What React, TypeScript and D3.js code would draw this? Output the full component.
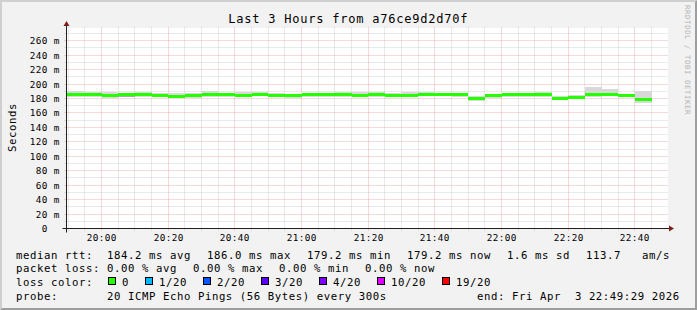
import React from 'react';
import * as d3 from 'd3';

// ---------- data ----------
const TITLE = 'Last 3 Hours from a76ce9d2d70f';
const Y_AXIS_TITLE = 'Seconds';
const WATERMARK = 'RRDTOOL / TOBI OETIKER';

const startTime = new Date(2026, 3, 3, 19, 49, 29);
const endTime = new Date(2026, 3, 3, 22, 49, 29);
const firstIntervalStart = new Date(2026, 3, 3, 19, 45, 0);
const STEP_MIN = 5;

// median rtt (ms) for each 5 minute interval, starting 19:45
const medianMs = [185.6, 185.6, 184.9, 183.8, 185.0, 185.6, 184.6, 183.3, 183.8, 185.6, 185.6, 184.6,
  186.0, 184.6, 183.8, 185.6, 185.6, 185.6, 184.6, 185.6, 184.6, 184.6, 186.0, 186.0,
  185.0, 180.0, 183.8, 185.6, 185.6, 185.0, 180.5, 181.8, 185.6, 186.0, 184.6, 179.2];
// outer smoke (lightest) top / bottom (ms)
const smokeHiMs = [191.0, 191.0, 188.5, 188.5, 188.0, 189.0, 187.5, 188.0, 188.0, 190.5, 188.0, 189.0,
  188.5, 187.5, 186.5, 188.0, 188.0, 189.0, 188.5, 188.5, 187.5, 189.5, 189.5, 188.0,
  188.0, 183.0, 185.5, 187.5, 187.5, 188.5, 183.5, 184.5, 196.0, 193.0, 186.5, 191.0];
const smokeLoMs = [182.6, 182.6, 182.0, 180.5, 181.5, 182.6, 182.0, 181.0, 181.0, 182.6, 182.6, 182.0,
  183.0, 182.0, 181.0, 182.6, 182.6, 182.6, 181.5, 182.6, 182.0, 182.0, 183.0, 183.0,
  182.0, 177.0, 181.0, 182.6, 182.6, 182.0, 177.5, 179.0, 182.0, 183.0, 182.0, 174.5];
// inner (darker) smoke top / bottom (ms)
const coreHiMs = [187.0, 187.0, 186.5, 185.5, 186.5, 188.0, 186.0, 185.0, 185.5, 187.0, 187.0, 186.5,
  187.5, 186.0, 185.0, 187.0, 187.0, 187.5, 186.5, 187.0, 186.0, 186.5, 187.5, 187.5,
  186.5, 182.0, 185.0, 187.0, 187.0, 187.0, 182.5, 183.5, 186.0, 188.0, 186.0, 181.0];
const coreLoMs = [184.0, 184.0, 183.5, 181.5, 182.0, 184.0, 183.0, 182.0, 182.5, 184.0, 184.0, 183.0,
  184.5, 183.0, 182.5, 184.0, 184.0, 184.0, 182.5, 184.0, 183.0, 183.0, 184.5, 184.5,
  183.5, 178.5, 182.5, 184.0, 184.0, 183.5, 178.5, 180.0, 183.0, 184.5, 183.0, 177.5];
// packet loss bucket index per interval (0 = no loss)
const lossIndex = [0, 0, 0, 0, 0, 0, 0, 0, 0, 0, 0, 0, 0, 0, 0, 0, 0, 0,
  0, 0, 0, 0, 0, 0, 0, 0, 0, 0, 0, 0, 0, 0, 0, 0, 0, 0];

const Y_MAX = 277;
const yMajorTicks = [0, 20, 40, 60, 80, 100, 120, 140, 160, 180, 200, 220, 240, 260];
const yMinorTicks = [10, 30, 50, 70, 90, 110, 130, 150, 170, 190, 210, 230, 250, 270];
const yUnitSuffix = ' m';

const rttLabel = 'median rtt:';
const rttStats = ['184.2 ms avg', '186.0 ms max', '179.2 ms min', '179.2 ms now', '1.6 ms sd', '113.7   am/s'];
const lossLabel = 'packet loss:';
const lossStats = ['0.00 % avg', '0.00 % max', '0.00 % min', '0.00 % now'];
const lossColorLabel = 'loss color:';
const lossLabels = ['0', '1/20', '2/20', '3/20', '4/20', '10/20', '19/20'];
const lossColors = ['#26ff00', '#00b8ff', '#0059ff', '#5e00ff', '#7e00ff', '#dd00ff', '#ff0000'];
const probeLabel = 'probe:';
const probeText = '20 ICMP Echo Pings (56 Bytes) every 300s';
const endText = 'end: Fri Apr  3 22:49:29 2026';

// ---------- style ----------
const FONT = '"DejaVu Sans Mono", monospace';
const C = {
  back: '#f2f2f2', canvas: '#ffffff', shadeA: '#cfcfcf', shadeB: '#9e9e9e',
  grid: 'rgba(143,143,143,0.38)', mgrid: 'rgba(222,79,79,0.42)', font: '#000000',
  arrow: '#801f1f', axis: '#1f1f1f', smokeOuter: '#d8d8d8', smokeInner: '#a8a8a8', water: '#b4b4b4',
};

function MonoText(props: { x: number; y: number; cw: number; size: number; anchor?: string; children: string; fill?: string; transform?: string }) {
  const ls = props.cw - props.size * 0.602;
  return (
    <text x={props.x} y={props.y} fontFamily={FONT} fontSize={props.size} letterSpacing={ls}
      textAnchor={props.anchor || 'start'} fill={props.fill || C.font} transform={props.transform}
      style={{ whiteSpace: 'pre' }} xmlSpace="preserve">{props.children}</text>
  );
}

export default function App() {
  const W = 697, H = 310;
  const X0 = 66.5, X1 = 666.5, Y0 = 228.5, Y1 = 28.5;
  const x = d3.scaleTime().domain([startTime, endTime]).range([X0, X1]);
  const y = d3.scaleLinear().domain([0, Y_MAX]).range([Y0, Y1]);
  const snap = (v: number) => Math.floor(v) + 0.5;

  const minorTimes = d3.timeMinute.every(5)!.range(startTime, endTime);
  const majorTimes = d3.timeMinute.every(20)!.range(startTime, endTime);
  const fmt = d3.timeFormat('%H:%M');

  const intervals = medianMs.map((m, k) => {
    const t0 = d3.timeMinute.offset(firstIntervalStart, k * STEP_MIN);
    const t1 = d3.timeMinute.offset(t0, STEP_MIN);
    const xa = Math.max(x(t0), X0 + 0.5);
    const xb = Math.min(x(t1), X1 + 1);
    return { k, m, xa, xb };
  });

  const LEG_CW = 7, LEG_FS = 10.67, AX_CW = 6, AX_FS = 9.33;
  const LX = 16, LX2 = 107, GAP = 16;
  const rowY = [258.8, 272.3, 285.8, 300.3];

  const rttX: number[] = [];
  { let p = LX2; rttStats.forEach(s => { rttX.push(p); p += s.length * LEG_CW + GAP; }); }
  const lossX: number[] = [];
  { let p = LX2; lossStats.forEach(s => { lossX.push(p); p += s.length * LEG_CW + GAP; }); }
  const boxX: number[] = [];
  { let p = 108; lossLabels.forEach(s => { boxX.push(p); p += 14 + s.length * LEG_CW + GAP; }); }

  return (
    <div style={{ width: W, height: H }}>
      <style>{'body{margin:0}'}</style>
      <svg width={W} height={H} viewBox={`0 0 ${W} ${H}`} style={{ display: 'block' }}>
        <rect x={0} y={0} width={W} height={H} fill={C.back} />
        {/* 3D border */}
        <polygon points={`0,0 ${W},0 ${W - 2},2 2,2 2,${H - 2} 0,${H}`} fill={C.shadeA} />
        <polygon points={`${W},0 ${W},${H} 0,${H} 2,${H - 2} ${W - 2},${H - 2} ${W - 2},2`} fill={C.shadeB} />

        {/* canvas */}
        <rect x={X0} y={Y1 - 0.5} width={X1 - X0 + 1.5} height={Y0 - Y1 + 0.5} fill={C.canvas} />

        {/* minor grid */}
        {yMinorTicks.map(v => (
          <line key={'hm' + v} x1={X0 - 2} x2={X1 + 2} y1={snap(y(v))} y2={snap(y(v))}
            stroke={C.grid} strokeWidth={1} strokeDasharray="1,1" />
        ))}
        {minorTimes.filter(t => t.getMinutes() % 20 !== 0).map(t => (
          <line key={'vm' + t.getTime()} x1={snap(x(t))} x2={snap(x(t))} y1={Y0 + 2} y2={Y1 - 2}
            stroke={C.grid} strokeWidth={1} strokeDasharray="1,1" />
        ))}
        {/* major grid */}
        {yMajorTicks.filter(v => v > 0).map(v => (
          <line key={'hM' + v} x1={X0 - 2} x2={X1 + 2} y1={snap(y(v))} y2={snap(y(v))}
            stroke={C.mgrid} strokeWidth={1} strokeDasharray="1,1" />
        ))}
        {majorTimes.map(t => (
          <line key={'vM' + t.getTime()} x1={snap(x(t))} x2={snap(x(t))} y1={Y0 + 2} y2={Y1 - 2}
            stroke={C.mgrid} strokeWidth={1} strokeDasharray="1,1" />
        ))}

        {/* smoke */}
        <g shapeRendering="crispEdges">
          {intervals.map(d => (
            <rect key={'so' + d.k} x={d.xa} width={d.xb - d.xa} y={y(smokeHiMs[d.k])}
              height={y(smokeLoMs[d.k]) - y(smokeHiMs[d.k])} fill={C.smokeOuter} />
          ))}
          {intervals.map(d => (
            <rect key={'si' + d.k} x={d.xa} width={d.xb - d.xa} y={y(coreHiMs[d.k])}
              height={y(coreLoMs[d.k]) - y(coreHiMs[d.k])} fill={C.smokeInner} />
          ))}
          {/* median, coloured by loss */}
          {intervals.map(d => (
            <rect key={'md' + d.k} x={d.xa} width={d.xb - d.xa} y={y(d.m) - 1.5} height={3}
              fill={lossColors[lossIndex[d.k]]} />
          ))}
        </g>

        {/* axes */}
        <line x1={X0 - 4} x2={X1 + 4} y1={Y0} y2={Y0} stroke={C.axis} strokeWidth={1} />
        <line x1={X0} x2={X0} y1={Y0 + 4} y2={Y1 - 4} stroke={C.axis} strokeWidth={1} />
        <polygon points={`${X1 + 2.5},${Y0 - 3} ${X1 + 2.5},${Y0 + 3} ${X1 + 7.5},${Y0}`} fill={C.arrow} />
        <polygon points={`${X0 - 3},${Y1 - 2.5} ${X0 + 3},${Y1 - 2.5} ${X0},${Y1 - 7.5}`} fill={C.arrow} />

        {/* y tick labels */}
        {yMajorTicks.map(v => {
          const gy = snap(y(v));
          const label = v === 0 ? '0' : `${v}${yUnitSuffix}`;
          const xr = v === 0 ? 59.7 - 2 * AX_CW : 59.7;
          return <MonoText key={'yl' + v} x={xr} y={gy + 3.4} cw={AX_CW} size={AX_FS} anchor="end">{label}</MonoText>;
        })}
        {/* x tick labels */}
        {majorTimes.map(t => (
          <MonoText key={'xl' + t.getTime()} x={snap(x(t)) + 0.2} y={240.5} cw={AX_CW} size={AX_FS} anchor="middle">{fmt(t)}</MonoText>
        ))}

        {/* title, axis title, watermark */}
        <MonoText x={348.2} y={23.3} cw={8} size={12} anchor="middle">{TITLE}</MonoText>
        <MonoText x={0} y={0} cw={LEG_CW} size={LEG_FS} anchor="middle" transform="translate(15.5,127.5) rotate(-90)">{Y_AXIS_TITLE}</MonoText>
        <MonoText x={0} y={0} cw={5} size={7.33} fill={C.water} transform="translate(685,5) rotate(90)">{WATERMARK}</MonoText>

        {/* legend */}
        <MonoText x={LX} y={rowY[0]} cw={LEG_CW} size={LEG_FS}>{rttLabel}</MonoText>
        {rttStats.map((s, i) => <MonoText key={'r' + i} x={rttX[i]} y={rowY[0]} cw={LEG_CW} size={LEG_FS}>{s}</MonoText>)}
        <MonoText x={LX} y={rowY[1]} cw={LEG_CW} size={LEG_FS}>{lossLabel}</MonoText>
        {lossStats.map((s, i) => <MonoText key={'l' + i} x={lossX[i]} y={rowY[1]} cw={LEG_CW} size={LEG_FS}>{s}</MonoText>)}
        <MonoText x={LX} y={rowY[2]} cw={LEG_CW} size={LEG_FS}>{lossColorLabel}</MonoText>
        {lossLabels.map((s, i) => (
          <g key={'c' + i}>
            <rect x={boxX[i] + 0.5} y={277.5} width={7} height={7} fill={lossColors[i]} stroke="#000" strokeWidth={1} />
            <MonoText x={boxX[i] + 14} y={rowY[2]} cw={LEG_CW} size={LEG_FS}>{s}</MonoText>
          </g>
        ))}
        <MonoText x={LX} y={rowY[3]} cw={LEG_CW} size={LEG_FS}>{probeLabel}</MonoText>
        <MonoText x={LX2} y={rowY[3]} cw={LEG_CW} size={LEG_FS}>{probeText}</MonoText>
        <MonoText x={477} y={rowY[3]} cw={LEG_CW} size={LEG_FS}>{endText}</MonoText>
      </svg>
    </div>
  );
}
